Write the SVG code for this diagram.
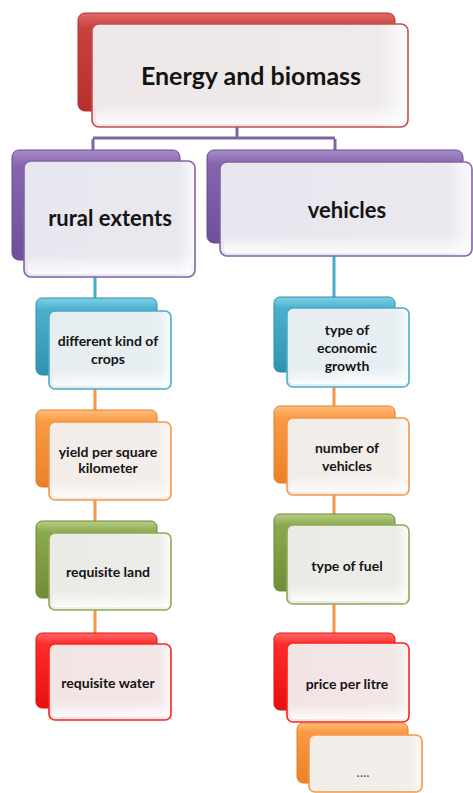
<svg xmlns="http://www.w3.org/2000/svg" width="473" height="793" viewBox="0 0 473 793">
<defs>
<linearGradient id="gRed" x1="0" y1="0" x2="0" y2="1"><stop offset="0" stop-color="#e06a66"/><stop offset="0.15" stop-color="#c9413d"/><stop offset="1" stop-color="#b8302c"/></linearGradient>
<linearGradient id="gPur" x1="0" y1="0" x2="0" y2="1"><stop offset="0" stop-color="#a88cc8"/><stop offset="0.15" stop-color="#8565ae"/><stop offset="1" stop-color="#6f4f98"/></linearGradient>
<linearGradient id="gBlu" x1="0" y1="0" x2="0" y2="1"><stop offset="0" stop-color="#7fd0e6"/><stop offset="0.15" stop-color="#4bb0cc"/><stop offset="1" stop-color="#2f93b0"/></linearGradient>
<linearGradient id="gOra" x1="0" y1="0" x2="0" y2="1"><stop offset="0" stop-color="#ffbd7a"/><stop offset="0.15" stop-color="#f99a45"/><stop offset="1" stop-color="#ea8129"/></linearGradient>
<linearGradient id="gGrn" x1="0" y1="0" x2="0" y2="1"><stop offset="0" stop-color="#b6cf82"/><stop offset="0.15" stop-color="#8aa84e"/><stop offset="1" stop-color="#718d37"/></linearGradient>
<linearGradient id="gBrd" x1="0" y1="0" x2="0" y2="1"><stop offset="0" stop-color="#ff6a6a"/><stop offset="0.15" stop-color="#ff2a2a"/><stop offset="1" stop-color="#e81010"/></linearGradient>
<linearGradient id="fRed" x1="0" y1="0" x2="1" y2="0"><stop offset="0" stop-color="#eee8e8"/><stop offset="0.9" stop-color="#efeaea"/><stop offset="1" stop-color="#fbfafa"/></linearGradient>
<linearGradient id="fPur" x1="0" y1="0" x2="1" y2="0"><stop offset="0" stop-color="#e8e6ee"/><stop offset="0.9" stop-color="#eae8ef"/><stop offset="1" stop-color="#fafafc"/></linearGradient>
<linearGradient id="fBlu" x1="0" y1="0" x2="1" y2="0"><stop offset="0" stop-color="#e5edf1"/><stop offset="0.9" stop-color="#e8eff2"/><stop offset="1" stop-color="#fafcfd"/></linearGradient>
<linearGradient id="fOra" x1="0" y1="0" x2="1" y2="0"><stop offset="0" stop-color="#f3ede9"/><stop offset="0.9" stop-color="#f3eeea"/><stop offset="1" stop-color="#fcfbfa"/></linearGradient>
<linearGradient id="fGrn" x1="0" y1="0" x2="1" y2="0"><stop offset="0" stop-color="#eaebe6"/><stop offset="0.9" stop-color="#ecede8"/><stop offset="1" stop-color="#fbfbfa"/></linearGradient>
<linearGradient id="fBrd" x1="0" y1="0" x2="1" y2="0"><stop offset="0" stop-color="#f3e4e4"/><stop offset="0.9" stop-color="#f3e6e6"/><stop offset="1" stop-color="#fcf9f9"/></linearGradient>
<linearGradient id="shine" x1="0" y1="0" x2="0" y2="1"><stop offset="0" stop-color="#ffffff" stop-opacity="0"/><stop offset="1" stop-color="#ffffff" stop-opacity="0.85"/></linearGradient>
</defs>
<style>
.back{stroke-width:1}
.front{stroke-width:1.6}
.sh{fill:url(#shine)}
.t{font-family:Lato,"Open Sans","Liberation Sans",sans-serif;font-weight:700;fill:#141414;text-anchor:middle}
.big{font-size:25px}
.mid{font-size:22px}
.sm{font-size:14px}
.red .back{fill:url(#gRed);stroke:#b0302c}.red .front{fill:url(#fRed);stroke:#c0504d}
.pur .back{fill:url(#gPur);stroke:#6a4c92}.pur .front{fill:url(#fPur);stroke:#8064a2}
.blu .back{fill:url(#gBlu);stroke:#2f8fab}.blu .front{fill:url(#fBlu);stroke:#4bacc6}
.ora .back{fill:url(#gOra);stroke:#e07f2a}.ora .front{fill:url(#fOra);stroke:#f79646}
.grn .back{fill:url(#gGrn);stroke:#6b8736}.grn .front{fill:url(#fGrn);stroke:#8eab57}
.brd .back{fill:url(#gBrd);stroke:#e01010}.brd .front{fill:url(#fBrd);stroke:#ff2020}
.conP{stroke:#8064a2;stroke-width:3;fill:none}
.conB{stroke:#4bacc6;stroke-width:3;fill:none}
.conO{stroke:#f79646;stroke-width:3;fill:none}
</style>
<g id="connectors">
<path class="conP" d="M237 127 V138 M93 138 H335 M93 139 V150 M335 139 V150"/>
<path class="conB" d="M95 277 V298 M334 256 V297"/>
<path class="conO" d="M95 389 V410 M95 500 V521 M95 610 V633 M334 387 V406 M334 495 V514 M334 604 V633"/>
</g>
<g id="n-energy" class="red">
<rect class="back" x="78" y="13" width="317" height="98" rx="7"/>
<rect class="front" x="92" y="24" width="316" height="103" rx="7"/>
<rect class="sh" x="96" y="104" width="308" height="20" rx="4"/>
<text class="t big" x="251" y="85">Energy and biomass</text>
</g>
<g id="n-rural" class="pur">
<rect class="back" x="12" y="150" width="168" height="110" rx="7"/>
<rect class="front" x="24" y="161" width="171" height="116" rx="7"/>
<rect class="sh" x="28" y="254" width="163" height="20" rx="4"/>
<text class="t mid" x="110" y="226">rural extents</text>
</g>
<g id="n-vehicles" class="pur">
<rect class="back" x="207" y="150" width="256" height="93" rx="7"/>
<rect class="front" x="220" y="162" width="252" height="94" rx="7"/>
<rect class="sh" x="224" y="234" width="244" height="19" rx="4"/>
<text class="t mid" x="347" y="218">vehicles</text>
</g>
<g id="n-crops" class="blu">
<rect class="back" x="36" y="298" width="121" height="77" rx="6"/>
<rect class="front" x="49" y="311" width="122" height="78" rx="6"/>
<rect class="sh" x="52" y="370" width="116" height="16" rx="4"/>
<text class="t sm" x="108" y="346">different kind of</text>
<text class="t sm" x="108" y="364">crops</text>
</g>
<g id="n-yield" class="ora">
<rect class="back" x="36" y="410" width="121" height="77" rx="6"/>
<rect class="front" x="49" y="422" width="122" height="78" rx="6"/>
<rect class="sh" x="52" y="481" width="116" height="16" rx="4"/>
<text class="t sm" x="108" y="457">yield per square</text>
<text class="t sm" x="108" y="473">kilometer</text>
</g>
<g id="n-land" class="grn">
<rect class="back" x="36" y="521" width="121" height="77" rx="6"/>
<rect class="front" x="49" y="533" width="122" height="77" rx="6"/>
<rect class="sh" x="52" y="591" width="116" height="16" rx="4"/>
<text class="t sm" x="108" y="577">requisite land</text>
</g>
<g id="n-water" class="brd">
<rect class="back" x="36" y="633" width="121" height="75" rx="6"/>
<rect class="front" x="49" y="644" width="122" height="76" rx="6"/>
<rect class="sh" x="52" y="701" width="116" height="16" rx="4"/>
<text class="t sm" x="108" y="688">requisite water</text>
</g>
<g id="n-growth" class="blu">
<rect class="back" x="274" y="297" width="121" height="75" rx="6"/>
<rect class="front" x="287" y="308" width="122" height="79" rx="6"/>
<rect class="sh" x="290" y="368" width="116" height="16" rx="4"/>
<text class="t sm" x="347" y="335">type of</text>
<text class="t sm" x="347" y="353">economic</text>
<text class="t sm" x="347" y="371">growth</text>
</g>
<g id="n-number" class="ora">
<rect class="back" x="274" y="406" width="121" height="77" rx="6"/>
<rect class="front" x="287" y="418" width="122" height="77" rx="6"/>
<rect class="sh" x="290" y="476" width="116" height="16" rx="4"/>
<text class="t sm" x="347" y="453">number of</text>
<text class="t sm" x="347" y="471">vehicles</text>
</g>
<g id="n-fuel" class="grn">
<rect class="back" x="274" y="514" width="121" height="77" rx="6"/>
<rect class="front" x="287" y="525" width="122" height="79" rx="6"/>
<rect class="sh" x="290" y="585" width="116" height="16" rx="4"/>
<text class="t sm" x="347" y="571">type of fuel</text>
</g>
<g id="n-price" class="brd">
<rect class="back" x="274" y="633" width="121" height="77" rx="6"/>
<rect class="front" x="287" y="643" width="122" height="79" rx="6"/>
<rect class="sh" x="290" y="703" width="116" height="16" rx="4"/>
<text class="t sm" x="347" y="689">price per litre</text>
</g>
<g id="n-more" class="ora">
<rect class="back" x="297" y="723" width="111" height="60" rx="6"/>
<rect class="front" x="309" y="735" width="113" height="57" rx="6"/>
<text class="t sm" x="363" y="777" style="font-weight:400;fill:#555">....</text>
</g>
</svg>
